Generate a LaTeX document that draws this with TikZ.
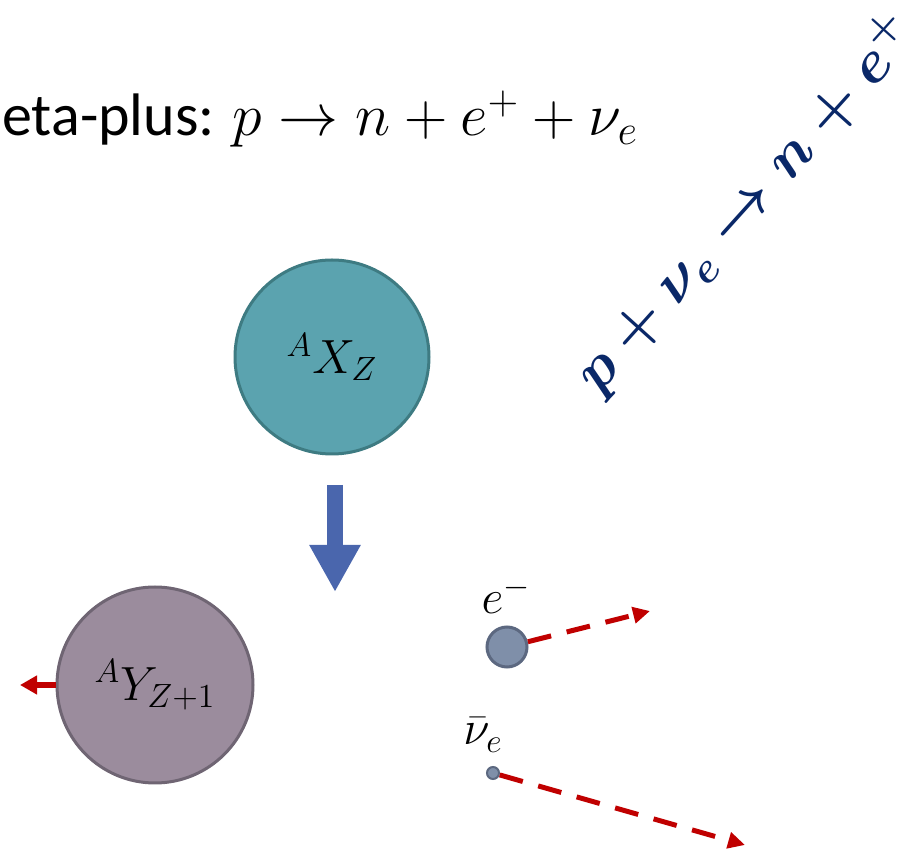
\documentclass[tikz,border=0pt]{standalone}
\usepackage{fix-cm}
\usepackage{amsmath}
\usepackage{fontspec}
\setmainfont{Carlito}
\usepackage{tikz}
\usetikzlibrary{arrows.meta}
\definecolor{tealfill}{HTML}{5BA3AF}
\definecolor{tealline}{HTML}{3E7B82}
\definecolor{daughterfill}{HTML}{9B8C9D}
\definecolor{daughterline}{HTML}{6F6573}
\definecolor{leptonfill}{HTML}{7F8FA9}
\definecolor{leptonline}{HTML}{5C6880}
\definecolor{momred}{HTML}{C00000}
\definecolor{decayblue}{HTML}{4A66AD}
\definecolor{inkblue}{HTML}{0A2868}

\begin{document}
\begin{tikzpicture}[x=0.5pt, y=-0.5pt,
    nucleus/.style={circle, line width=1.5pt, inner sep=0pt},
    lepton/.style={circle, fill=leptonfill, draw=leptonline, line width=1.5pt, inner sep=0pt},
    recoil/.style={momred, line width=3pt, -{Triangle[width=9pt, length=8.5pt]}},
    emitted/.style={momred, line width=2.5pt, dash pattern=on 12pt off 8pt, -{Triangle[width=8pt, length=8.5pt]}}
]
  \useasboundingbox (0,0) rectangle (922,849);

  % Titel (links abgeschnitten)
  \node[anchor=base west, inner sep=0pt, font=\fontsize{30}{36}\selectfont] (title) at (2,136)
    {eta-plus: $p \rightarrow n + e^{+} + \nu_e$};

  % Handschrift
  \node[inkblue, rotate=48, font=\fontsize{30}{36}\selectfont\boldmath] (note) at (746,204)
    {$p + \nu_e \rightarrow n + e^{+}$};

  % Mutterkern
  \node[nucleus, fill=tealfill, draw=tealline, minimum size=97pt, font=\fontsize{24}{29}\selectfont] (mother) at (332,357)
    {${}^{A}X_{Z}$};

  % Zerfallspfeil
  \coordinate (decaytop) at (335,485);
  \coordinate (decaytip) at (335,592);
  \draw[decayblue, line width=8pt, -{Triangle[width=24pt, length=23.5pt]}] (decaytop) -- (decaytip);

  % Tochterkern
  \node[nucleus, fill=daughterfill, draw=daughterline, minimum size=98pt, font=\fontsize{24}{29}\selectfont] (daughter) at (155,685)
    {${}^{A}Y_{Z+1}$};
  \coordinate (recoiltip) at (20,685);
  \draw[recoil] (daughter.west) -- (recoiltip);

  % Elektron
  \node[lepton, minimum size=20pt] (elec) at (507,647) {};
  \node[font=\fontsize{24}{29}\selectfont] (eleclabel) at (506,595) {$e^{-}$};
  \coordinate (electip) at (650,611);
  \draw[emitted] (elec) -- (electip);

  % Neutrino
  \node[lepton, minimum size=6pt, line width=1pt] (nu) at (493,773) {};
  \node[font=\fontsize{24}{29}\selectfont] (nulabel) at (483,735) {$\bar{\nu}_e$};
  \coordinate (nutip) at (745,845);
  \draw[emitted] (nu) -- (nutip);

\end{tikzpicture}
\end{document}
